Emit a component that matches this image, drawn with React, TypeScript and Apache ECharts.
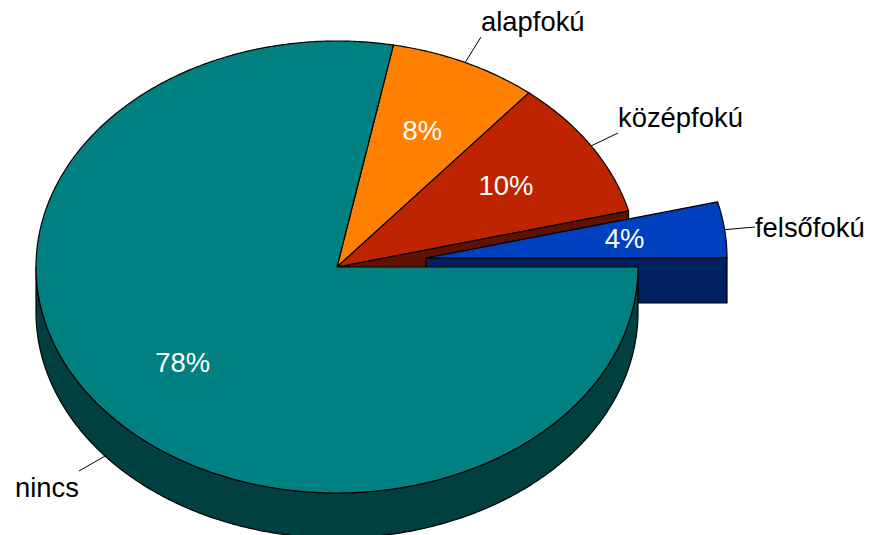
import React, { useEffect, useRef } from "react";
import * as echarts from "echarts";

const categories = ["nincs", "alapfokú", "középfokú", "felsőfokú"];
const shares = [78, 8, 10, 4];
const percentLabels = ["78%", "8%", "10%", "4%"];

const topColors = ["#008080", "#FF8000", "#BF2400", "#0040BF"];
const sideColors = ["#004040", "#804000", "#601200", "#002060"];

const CX = 337, CY = 267, RX = 301, RY = 226, DEPTH = 45;
const explodeOffset = [[0, 0], [0, 0], [0, 0], [89, -9]];
const leaderEnds = [[79, 471], [481, 37], [618, 133], [755, 227]];
const nameAnchors: [number, number, string][] = [
  [15, 501, "left"],
  [481, 35, "left"],
  [618, 131, "left"],
  [755, 241, "left"],
];
const FONT = "Liberation Sans, Arial, sans-serif";
const FONT_SIZE = 27.4;
const STROKE = "#000";

const total = shares.reduce((a, b) => a + b, 0);
function range(i: number): [number, number] {
  let s = 0;
  for (let k = 0; k < i; k++) s += shares[k];
  return [(s / total) * 360, ((s + shares[i]) / total) * 360];
}
function pt(i: number, deg: number, f = 1, dy = 0): number[] {
  const r = (deg * Math.PI) / 180;
  return [
    CX + explodeOffset[i][0] + RX * f * Math.cos(r),
    CY + explodeOffset[i][1] + RY * f * Math.sin(r) + dy,
  ];
}
function arc(i: number, a: number, b: number, dy = 0): number[][] {
  const n = Math.max(2, Math.ceil(Math.abs(b - a) * 2));
  const out: number[][] = [];
  for (let k = 0; k <= n; k++) out.push(pt(i, a + ((b - a) * k) / n, 1, dy));
  return out;
}

const rotated = [1, 2, 3, 0];

function renderSide(_: any, api: any) {
  const i = api.value(0);
  const [a, b] = range(i);
  const o = [CX + explodeOffset[i][0], CY + explodeOffset[i][1]];
  const e = pt(i, b);
  const children: any[] = [];
  const style = { fill: sideColors[i], stroke: STROKE, lineWidth: 1.2, lineJoin: "round" };
  children.push({
    type: "polygon",
    shape: { points: [o, e, [e[0], e[1] + DEPTH], [o[0], o[1] + DEPTH]] },
    style,
  });
  const from = Math.max(a, 0);
  const to = Math.min(b, 180);
  if (to > from) {
    const top = arc(i, from, to);
    const bottom = arc(i, to, from, DEPTH);
    children.push({ type: "polygon", shape: { points: top.concat(bottom) }, style });
  }
  return { type: "group", children };
}

function renderTop(_: any, api: any) {
  const i = api.value(0);
  const [a, b] = range(i);
  const o = [CX + explodeOffset[i][0], CY + explodeOffset[i][1]];
  return {
    type: "polygon",
    shape: { points: [o].concat(arc(i, a, b)) },
    style: { fill: topColors[i], stroke: STROKE, lineWidth: 1.2, lineJoin: "round" },
  };
}

function renderLabel(_: any, api: any) {
  const i = api.value(0);
  const [a, b] = range(i);
  const mid = (a + b) / 2;
  const inner = pt(i, mid, 0.665);
  const dy = mid < 180 || i === 0 ? DEPTH : 0;
  const edge = pt(i, mid, 1, dy);
  const [nx, ny, align] = nameAnchors[i];
  return {
    type: "group",
    children: [
      {
        type: "line",
        shape: { x1: edge[0], y1: edge[1], x2: leaderEnds[i][0], y2: leaderEnds[i][1] },
        style: { stroke: STROKE, lineWidth: 1 },
      },
      {
        type: "text",
        style: {
          x: inner[0], y: inner[1] - 0.5, text: percentLabels[i], fill: "#fff",
          fontFamily: FONT, fontSize: FONT_SIZE, textAlign: "center", textVerticalAlign: "middle",
        },
      },
      {
        type: "text",
        style: {
          x: nx, y: ny, text: categories[i], fill: "#000",
          fontFamily: FONT, fontSize: FONT_SIZE, textAlign: align, textVerticalAlign: "bottom",
          textBaseline: "alphabetic",
        },
      },
    ],
  };
}

const rows = (order: number[]) =>
  order.map((i) => ({ name: categories[i], value: [i, shares[i]] }));

export default function App() {
  const ref = useRef<HTMLDivElement>(null);
  useEffect(() => {
    document.body.style.margin = "0";
    const chart = echarts.init(ref.current!, null, { renderer: "svg" });
    chart.setOption({
      animation: false,
      backgroundColor: "#fff",
      series: [
        { type: "custom", coordinateSystem: "none", silent: true, z: 1, renderItem: renderSide, data: rows(rotated) },
        { type: "custom", coordinateSystem: "none", silent: true, z: 2, renderItem: renderTop, data: rows(rotated) },
        { type: "custom", coordinateSystem: "none", silent: true, z: 3, renderItem: renderLabel, data: rows(rotated) },
      ],
    });
    return () => chart.dispose();
  }, []);
  return <div ref={ref} style={{ width: 871, height: 535 }} />;
}
